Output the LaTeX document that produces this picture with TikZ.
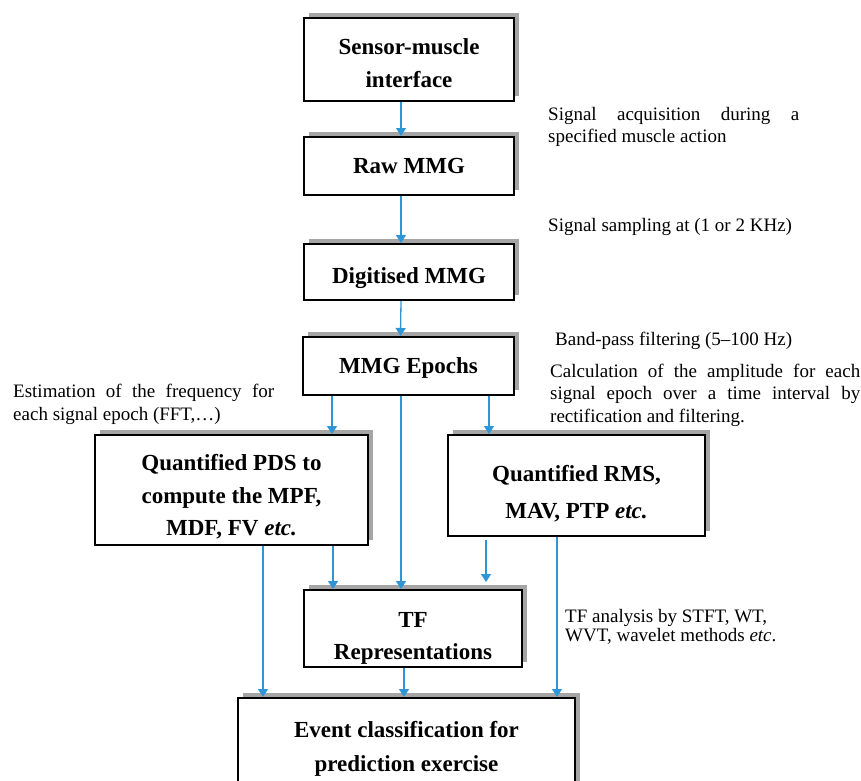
\documentclass[tikz,border=0pt]{standalone}
\usepackage{fontspec}
\setmainfont{Liberation Serif}
\usetikzlibrary{arrows.meta,shadows}
\definecolor{arrowblue}{RGB}{46,150,215}
\definecolor{shadowgray}{RGB}{165,165,165}
\newcommand\myup[1]{\rule{0pt}{#1pt}}
\hyphenpenalty=10000
\exhyphenpenalty=10000
\tolerance=10000
\begin{document}
\hyphenpenalty=10000
\exhyphenpenalty=10000
\tolerance=10000
\begin{tikzpicture}[x=1pt,y=-1pt,
  box/.style={draw=black, line width=2pt, fill=white, align=center, inner sep=0pt,
    font=\fontsize{23}{33}\selectfont\bfseries,
    general shadow={fill=shadowgray, shadow xshift=5pt, shadow yshift=5pt}},
  arr/.style={draw=arrowblue, line width=1.3pt, -{Triangle[width=10pt,length=8pt]}},
  note/.style={inner sep=0pt, anchor=north west, font=\fontsize{19}{22}\selectfont}
]
\useasboundingbox (0,0) rectangle (861,780);

% boxes
\node[box, minimum width=210pt, minimum height=83pt] (s1) at (409,59.5) {\myup{24}Sensor-muscle\\interface};
\node[box, minimum width=210pt, minimum height=58pt] (s2) at (409,166) {Raw MMG};
\node[box, minimum width=210pt, minimum height=56pt] (s3) at (409,272) {\myup{28}Digitised MMG};
\node[box, minimum width=211pt, minimum height=58pt] (s4) at (408.5,366) {\myup{20}MMG Epochs};
\node[box, minimum width=273pt, minimum height=110pt, font=\fontsize{23}{32.5}\selectfont\bfseries] (pds) at (231.5,490)
  {\myup{30}Quantified PDS to\\compute the MPF,\\MDF, FV \textit{etc.}};
\node[box, minimum width=257pt, minimum height=101pt, font=\fontsize{23}{37}\selectfont\bfseries] (rms) at (576.5,485.5)
  {\myup{32}Quantified RMS,\\MAV, PTP \textit{etc.}};
\node[box, minimum width=218pt, minimum height=77pt, font=\fontsize{23}{32}\selectfont\bfseries] (tf) at (413,628.5)
  {\myup{34}TF\\Representations};
\node[box, minimum width=337pt, minimum height=96pt, font=\fontsize{23}{34}\selectfont\bfseries] (ev) at (406.5,746)
  {\myup{22}Event classification for\\prediction exercise};

% annotations
\node[note, text width=251pt, align=justify] (acq) at (548,107.5) {Signal acquisition during a specified muscle action};
\node[note] (samp) at (548,218.5) {Signal sampling at (1 or 2 KHz)};
\node[note] (band) at (555,331.5) {Band-pass filtering (5--100 Hz)};
\node[note, text width=310pt, align=justify, font=\fontsize{19}{22.5}\selectfont] (calc) at (550,363.5)
  {Calculation of the amplitude for each signal epoch over a time interval by rectification and filtering.};
\node[note, text width=261pt, align=justify, font=\fontsize{19}{23}\selectfont] (est) at (13,383.5)
  {Estimation of the frequency for each signal epoch (FFT,\dots)};
\node[note, align=left, font=\fontsize{19}{17}\selectfont] (tfa) at (565,609.5)
  {TF analysis by STFT, WT,\\WVT, wavelet methods \textit{etc}.};

% connectors
\draw[arr] ([xshift=-8pt]s1.south) -- ([xshift=-8pt]s2.north);
\draw[arr] ([xshift=-8pt]s2.south) -- ([xshift=-8pt]s3.north);
\draw[arr] ([xshift=-8pt]s3.south) -- ([xshift=-8pt]s4.north);
\draw[arr] ([xshift=-76.5pt]s4.south) -- ([xshift=100.5pt]pds.north);
\draw[arr] ([xshift=-7.5pt]s4.south) -- ([xshift=-12pt]tf.north);
\draw[arr] ([xshift=80.5pt]s4.south) -- ([xshift=-87.5pt]rms.north);
\draw[arr] ([xshift=31.5pt]pds.south) -- ([xshift=-143.5pt]ev.north);
\draw[arr] ([xshift=101.5pt]pds.south) -- ([xshift=-80pt]tf.north);
\draw[arr, shorten <=3pt, shorten >=7pt] ([xshift=-90.5pt]rms.south) -- ([xshift=73pt]tf.north);
\draw[arr] ([xshift=-19.5pt]rms.south) -- ([xshift=150.5pt]ev.north);
\draw[arr] ([xshift=-9pt]tf.south) -- ([xshift=-2.5pt]ev.north);
\end{tikzpicture}
\end{document}
